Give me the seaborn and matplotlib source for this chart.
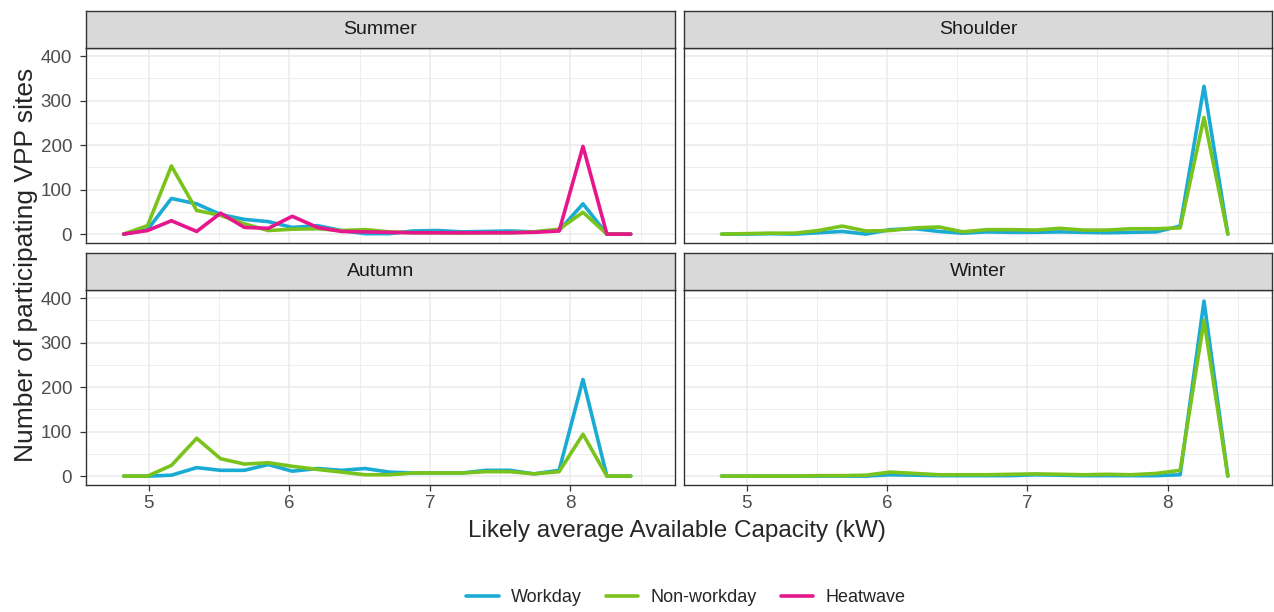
import matplotlib
matplotlib.use("Agg")
import matplotlib.pyplot as plt
from matplotlib.lines import Line2D
import numpy as np
import pandas as pd
import seaborn as sns

sns.set_theme(style="white")
plt.rcParams['font.family'] = ['Liberation Sans', 'DejaVu Sans']

# ---------------- data ----------------
capacity_kw = [4.82, 4.99, 5.16, 5.34, 5.51, 5.68, 5.85, 6.02, 6.20, 6.37, 6.54,
               6.71, 6.88, 7.06, 7.23, 7.40, 7.57, 7.74, 7.92, 8.09, 8.26, 8.43]

seasons = ["Summer", "Shoulder", "Autumn", "Winter"]
day_types = ["Workday", "Non-workday", "Heatwave"]

summer_workday = [0, 10, 80, 68, 44, 33, 28, 15, 19, 8, 1, 1, 7, 8, 5, 6, 7, 5, 8, 68, 0, 0]
summer_nonworkday = [0, 19, 153, 53, 42, 23, 8, 11, 12, 8, 10, 5, 3, 3, 2, 3, 3, 5, 11, 49, 0, 0]
summer_heatwave = [0, 8, 30, 6, 47, 15, 13, 40, 15, 6, 5, 4, 3, 3, 3, 3, 3, 4, 7, 197, 0, 0]

shoulder_workday = [0, 0, 1, 0, 3, 6, 0, 10, 12, 6, 2, 5, 4, 4, 5, 4, 3, 4, 5, 18, 332, 0]
shoulder_nonworkday = [0, 1, 2, 2, 8, 18, 7, 8, 14, 16, 5, 10, 10, 9, 13, 9, 9, 12, 12, 14, 262, 0]

autumn_workday = [0, 0, 2, 19, 13, 13, 26, 11, 17, 13, 17, 9, 7, 7, 7, 13, 13, 5, 13, 217, 0, 0]
autumn_nonworkday = [0, 0, 24, 85, 39, 27, 30, 22, 15, 9, 3, 3, 7, 7, 7, 10, 10, 5, 10, 94, 0, 0]

winter_workday = [0, 0, 0, 0, 0, 0, 0, 3, 2, 1, 1, 1, 1, 3, 2, 1, 1, 1, 1, 3, 393, 0]
winter_nonworkday = [0, 0, 0, 0, 1, 1, 2, 9, 6, 3, 3, 3, 4, 5, 4, 3, 4, 3, 6, 13, 350, 0]

x_ticks = [5, 6, 7, 8]
y_ticks = [0, 100, 200, 300, 400]

series = {
    "Summer": {"Workday": summer_workday, "Non-workday": summer_nonworkday,
               "Heatwave": summer_heatwave},
    "Shoulder": {"Workday": shoulder_workday, "Non-workday": shoulder_nonworkday},
    "Autumn": {"Workday": autumn_workday, "Non-workday": autumn_nonworkday},
    "Winter": {"Workday": winter_workday, "Non-workday": winter_nonworkday},
}

rows = []
for season, d in series.items():
    for dt, vals in d.items():
        for x, v in zip(capacity_kw, vals):
            rows.append({"season": season, "type": dt, "capacity": x, "sites": v})
df = pd.DataFrame(rows)

palette = {"Workday": "#1AABD4", "Non-workday": "#79C31C", "Heatwave": "#E6168C"}

# ---------------- layout ----------------
W, H = 1274, 612
fig = plt.figure(figsize=(W / 100, H / 100), dpi=100)
fig.patch.set_facecolor("white")


def px_axes(l, t, r, b):
    return fig.add_axes([l / W, 1 - b / H, (r - l) / W, (b - t) / H])


panel_px = {
    "Summer": (86, 48, 675, 243),
    "Shoulder": (684, 48, 1272, 243),
    "Autumn": (86, 290, 675, 485),
    "Winter": (684, 290, 1272, 485),
}
strip_h = 37

border = "#333333"
grid_c = "#EBEBEB"
tick_c = "#4D4D4D"

for season in seasons:
    l, t, r, b = panel_px[season]
    ax = px_axes(l, t, r, b)
    sub = df[df["season"] == season]
    sns.lineplot(data=sub, x="capacity", y="sites", hue="type",
                 hue_order=[h for h in day_types if h in sub["type"].unique()],
                 palette=palette, linewidth=2.6, ax=ax, legend=False)
    ax.set_xlim(4.552, 8.745)
    ax.set_ylim(-20, 418)
    ax.set_xticks(x_ticks)
    ax.set_yticks(y_ticks)
    ax.set_xticks([5.5, 6.5, 7.5, 8.5], minor=True)
    ax.set_yticks([50, 150, 250, 350], minor=True)
    ax.grid(True, which="major", color=grid_c, linewidth=1.1)
    ax.grid(True, which="minor", color=grid_c, linewidth=0.6)
    ax.set_axisbelow(True)
    for sp in ax.spines.values():
        sp.set_color(border)
        sp.set_linewidth(1.0)
        sp.set_visible(True)
    ax.set_xlabel("")
    ax.set_ylabel("")
    left = season in ("Summer", "Autumn")
    bottom = season in ("Autumn", "Winter")
    ax.tick_params(axis="both", which="major", length=4, width=0.9, color=border,
                   labelcolor=tick_c, labelsize=13.5, pad=3)
    ax.tick_params(axis="y", which="major", pad=6)
    ax.tick_params(axis="both", which="minor", length=0)
    ax.tick_params(axis="y", left=left, labelleft=left)
    ax.tick_params(axis="x", bottom=bottom, labelbottom=bottom)

    # strip
    sax = px_axes(l, t - strip_h, r, t)
    sax.set_facecolor("#D9D9D9")
    sax.set_xticks([])
    sax.set_yticks([])
    for sp in sax.spines.values():
        sp.set_color(border)
        sp.set_linewidth(1.0)
    sax.text(0.5, 0.5, season, ha="center", va="center", fontsize=14,
             color="#1A1A1A", transform=sax.transAxes)

fig.text(677 / W, 1 - 531 / H, "Likely average Available Capacity (kW)",
         ha="center", va="center", fontsize=17.5)
fig.text(26 / W, 1 - 265 / H, "Number of participating VPP sites",
         ha="center", va="center", rotation=90, fontsize=19)

handles = [Line2D([], [], color=palette[d], linewidth=2.6) for d in day_types]
fig.legend(handles, day_types, loc="center", bbox_to_anchor=(686 / W, 1 - 598 / H),
           ncol=3, frameon=False, fontsize=13, handlelength=1.8,
           columnspacing=1.3, handletextpad=0.7)

fig.savefig("out.png", dpi=100, facecolor="white")
